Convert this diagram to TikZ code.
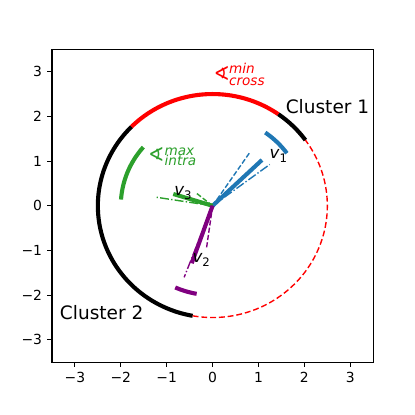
\documentclass[tikz,border=0pt]{standalone}
\usepackage{fontspec}
\setmainfont{DejaVu Sans}
\definecolor{mblue}{HTML}{1F77B4}
\definecolor{mgreen}{HTML}{2CA02C}
\definecolor{mpurple}{HTML}{800080}
\definecolor{mred}{HTML}{FF0000}
\newcommand{\vlab}[1]{{\itshape v}\raisebox{-0.25em}{\fontsize{10}{10}\selectfont #1}}
\begin{document}
\begin{tikzpicture}[x=1.377cm, y=1.341cm,
  arcline/.style={line width=3.5pt},
  vecline/.style={line width=3.5pt},
  dashln/.style={line width=1.19pt, dash pattern=on 4.39pt off 1.9pt},
  dashdotln/.style={line width=1.19pt, dash pattern=on 7.59pt off 1.9pt on 1.19pt off 1.9pt},
  ticklab/.style={inner sep=0pt, font=\fontsize{11.86}{13}\selectfont},
  anglab/.style={inner sep=0pt, font=\fontsize{16.6}{18}\selectfont},
  supsub/.style={inner sep=0pt, anchor=base west, font=\fontsize{11.6}{12}\selectfont\itshape},
  vlabel/.style={inner sep=0pt, anchor=base west, font=\fontsize{14.2}{15}\selectfont},
  clabel/.style={inner sep=0pt, anchor=base west, font=\fontsize{15.8}{18}\selectfont}]
\useasboundingbox (-4.632,-4.680) rectangle (4.410,4.604);
\fill[white] (-4.632,-4.680) rectangle (4.410,4.604);

% circle r=2.5
\draw[arcline, mred] plot[domain=55:135, samples=60] ({2.5*cos(\x)},{2.5*sin(\x)});
\draw[arcline, black] plot[domain=135:260, samples=80] ({2.5*cos(\x)},{2.5*sin(\x)});
\draw[arcline, black] plot[domain=36:55, samples=20] ({2.5*cos(\x)},{2.5*sin(\x)});
\draw[line width=1.19pt, dash pattern=on 5pt off 2.5pt, mred] plot[domain=260:396, samples=100] ({2.5*cos(\x)},{2.5*sin(\x)});

% arcs r=2
\draw[arcline, mblue] plot[domain=36:55, samples=20] ({2*cos(\x)},{2*sin(\x)});
\draw[arcline, mgreen] plot[domain=139:176, samples=30] ({2*cos(\x)},{2*sin(\x)});
\draw[arcline, mpurple] plot[domain=246:260, samples=20] ({2*cos(\x)},{2*sin(\x)});

% vectors
\coordinate (O) at (0,0);
\coordinate (B1) at (1.076,1.025);
\coordinate (Bd) at (0.815,1.20);
\coordinate (Bdd) at (1.245,0.924);
\coordinate (G1) at (-0.856,0.264);
\coordinate (Gd) at (-0.35,0.28);
\coordinate (Gdd) at (-1.218,0.19);
\coordinate (P1) at (-0.455,-1.286);
\coordinate (Pd) at (-0.13,-0.93);
\coordinate (Pdd) at (-0.62,-1.60);

\draw[dashln, mblue] (O) -- (Bd);
\draw[dashdotln, mblue] (O) -- (Bdd);
\draw[vecline, mblue] (O) -- (B1);
\draw[dashln, mgreen] (O) -- (Gd);
\draw[dashdotln, mgreen] (O) -- (Gdd);
\draw[vecline, mgreen] (O) -- (G1);
\draw[dashln, mpurple] (O) -- (Pd);
\draw[dashdotln, mpurple] (O) -- (Pdd);
\draw[vecline, mpurple] (O) -- (P1);

% labels
\node[vlabel] (v1) at (1.24,1.063) {\vlab{1}};
\node[vlabel] (v2) at (-0.44,-1.273) {\vlab{2}};
\node[vlabel] (v3) at (-0.84,0.235) {\vlab{3}};
\node[clabel] (c1) at (1.59,2.069) {Cluster 1};
\node[clabel] (c2) at (-3.33,-2.539) {Cluster 2};

\node[anglab, text=mred] (angR) at (0.2,2.97) {∢};
\node[supsub, text=mred] (minR) at (0.355,2.957) {min};
\node[supsub, text=mred] (crossR) at (0.355,2.68) {cross};
\node[anglab, text=mgreen] (angG) at (-1.225,1.159) {∢};
\node[supsub, text=mgreen] (maxG) at (-1.05,1.136) {max};
\node[supsub, text=mgreen] (intraG) at (-1.05,0.897) {intra};

% axes
\draw[line width=0.95pt] (-3.5,-3.5) rectangle (3.5,3.5);
\foreach \i/\l in {-3/−3,-2/−2,-1/−1,0/0,1/1,2/2,3/3}{
  \draw[line width=0.95pt] (\i,-3.5) -- (\i,-3.609);
  \node[ticklab, anchor=north, yshift=-4.15pt] (xt\i) at (\i,-3.609) {\l};
  \draw[line width=0.95pt] (-3.5,\i) -- (-3.606,\i);
  \node[ticklab, anchor=east, xshift=-4.15pt] (yt\i) at (-3.606,\i) {\l};
}
\end{tikzpicture}
\end{document}
